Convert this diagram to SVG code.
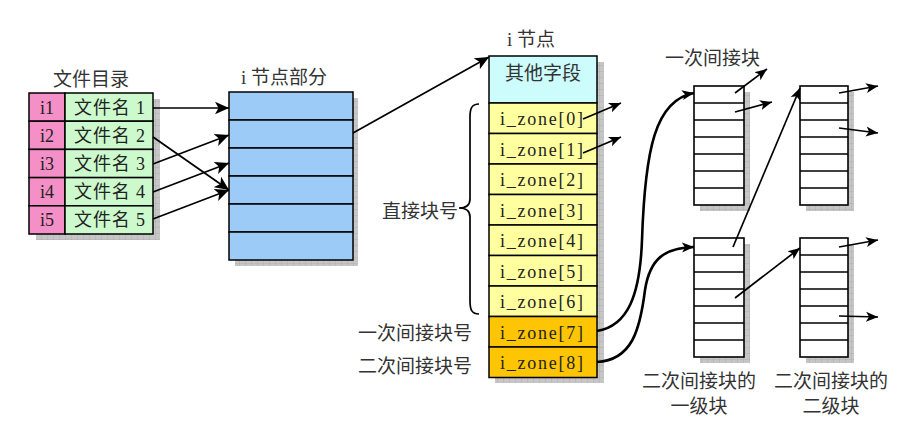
<svg xmlns="http://www.w3.org/2000/svg" width="901" height="436" viewBox="0 0 901 436">
<defs>
<pattern id="grid" width="6" height="6" patternUnits="userSpaceOnUse">
<rect width="6" height="6" fill="#c6c6c6"/>
<path d="M6,0 V6 M0,6 H6" stroke="#a9a9a9" stroke-width="0.8" fill="none"/>
</pattern>
<marker id="ah" viewBox="0 0 10 10" refX="10" refY="5" markerWidth="12" markerHeight="12" markerUnits="userSpaceOnUse" orient="auto">
<path d="M0,0.8 L10,5 L0,9.2 L2.5,5 z" fill="#000"/>
</marker>
<marker id="ahb" viewBox="0 0 10 10" refX="10" refY="5" markerWidth="14" markerHeight="14" markerUnits="userSpaceOnUse" orient="auto">
<path d="M0,0.5 L10,5 L0,9.5 L2.5,5 z" fill="#000"/>
</marker>
</defs>
<style>
text{font-family:"Liberation Serif","Noto Sans CJK SC",serif;font-size:18px;fill:#222}
.lbl{font-size:19px;fill:#333}
.cell{stroke:#000;stroke-width:1.5}
.box{fill:#fff;stroke:#000;stroke-width:1.6}
.sh{fill:url(#grid)}
.ln{stroke:#000;stroke-width:1.7;fill:none}
.thick{stroke-width:2.6}
.c{text-anchor:middle}
</style>
<rect width="901" height="436" fill="#fff"/>

<g id="file-directory">
<text class="lbl c" x="91" y="86">文件目录</text>
<rect class="sh" x="36" y="99" width="124" height="141"/>
<g class="cell">
<rect x="29" y="93" width="36" height="28.2" fill="#f58fc7"/>
<rect x="29" y="121.2" width="36" height="28.2" fill="#f58fc7"/>
<rect x="29" y="149.4" width="36" height="28.2" fill="#f58fc7"/>
<rect x="29" y="177.6" width="36" height="28.2" fill="#f58fc7"/>
<rect x="29" y="205.8" width="36" height="28.2" fill="#f58fc7"/>
<rect x="65" y="93" width="88" height="28.2" fill="#ccfacc"/>
<rect x="65" y="121.2" width="88" height="28.2" fill="#ccfacc"/>
<rect x="65" y="149.4" width="88" height="28.2" fill="#ccfacc"/>
<rect x="65" y="177.6" width="88" height="28.2" fill="#ccfacc"/>
<rect x="65" y="205.8" width="88" height="28.2" fill="#ccfacc"/>
</g>
<text class="c" x="47" y="114">i1</text>
<text class="c" x="47" y="142">i2</text>
<text class="c" x="47" y="170">i3</text>
<text class="c" x="47" y="198">i4</text>
<text class="c" x="47" y="226">i5</text>
<text x="74" y="114" textLength="71">文件名 1</text>
<text x="74" y="142" textLength="71">文件名 2</text>
<text x="74" y="170" textLength="71">文件名 3</text>
<text x="74" y="198" textLength="71">文件名 4</text>
<text x="74" y="226" textLength="71">文件名 5</text>
</g>

<g id="inode-part">
<text class="lbl" x="241" y="84">i 节点部分</text>
<rect class="sh" x="235" y="98" width="123" height="168"/>
<g class="cell" fill="#9dcbf7">
<rect x="229" y="92" width="124" height="28"/>
<rect x="229" y="120" width="124" height="28"/>
<rect x="229" y="148" width="124" height="28"/>
<rect x="229" y="176" width="124" height="28"/>
<rect x="229" y="204" width="124" height="28"/>
<rect x="229" y="232" width="124" height="28"/>
</g>
</g>

<g id="inode">
<text class="lbl" x="507" y="46">i 节点</text>
<rect class="sh" x="495" y="62" width="109" height="321"/>
<rect class="cell" x="489" y="56" width="108" height="47" fill="#ccfcfc"/>
<text class="lbl c" x="543" y="80">其他字段</text>
<g class="cell" fill="#ffff9f">
<rect x="489" y="103" width="108" height="30.5"/>
<rect x="489" y="133.5" width="108" height="30.5"/>
<rect x="489" y="164" width="108" height="30.5"/>
<rect x="489" y="194.5" width="108" height="30.5"/>
<rect x="489" y="225" width="108" height="30.5"/>
<rect x="489" y="255.5" width="108" height="30.5"/>
<rect x="489" y="286" width="108" height="30.5"/>
</g>
<g class="cell" fill="#fdc503">
<rect x="489" y="316.5" width="108" height="30.5"/>
<rect x="489" y="347" width="108" height="30.5"/>
</g>
<text x="500" y="125" textLength="83">i_zone[0]</text>
<text x="500" y="155.5" textLength="83">i_zone[1]</text>
<text x="500" y="186" textLength="83">i_zone[2]</text>
<text x="500" y="216.5" textLength="83">i_zone[3]</text>
<text x="500" y="247" textLength="83">i_zone[4]</text>
<text x="500" y="277.5" textLength="83">i_zone[5]</text>
<text x="500" y="308" textLength="83">i_zone[6]</text>
<text x="500" y="338.5" textLength="83">i_zone[7]</text>
<text x="500" y="369" textLength="83">i_zone[8]</text>
</g>

<g id="brace-labels">
<path class="ln" d="M479,104 C472,104 470,108 470,117 L470,199 C470,205 466,208 459,208 C466,208 470,211 470,217 L470,301 C470,310 472,314 479,314"/>
<text class="lbl" x="382" y="218">直接块号</text>
<text class="lbl" x="358" y="340">一次间接块号</text>
<text class="lbl" x="358" y="373">二次间接块号</text>
</g>

<g id="indirect-block">
<text class="lbl" x="665" y="65">一次间接块</text>
<rect class="sh" x="700" y="92" width="50" height="119"/>
<rect class="box" x="694" y="86" width="50" height="119"/>
<path class="ln" d="M694,103 H744 M694,120 H744 M694,137 H744 M694,154 H744 M694,171 H744 M694,188 H744"/>
</g>

<g id="data-block-top">
<rect class="sh" x="806" y="92" width="48" height="119"/>
<rect class="box" x="800" y="86" width="48" height="119"/>
<path class="ln" d="M800,103 H848 M800,120 H848 M800,137 H848 M800,154 H848 M800,171 H848 M800,188 H848"/>
</g>

<g id="double-level1">
<rect class="sh" x="700" y="244" width="50" height="119"/>
<rect class="box" x="694" y="238" width="50" height="119"/>
<path class="ln" d="M694,255 H744 M694,272 H744 M694,289 H744 M694,306 H744 M694,323 H744 M694,340 H744"/>
<text class="lbl c" x="699" y="388">二次间接块的</text>
<text class="lbl c" x="699" y="413">一级块</text>
</g>

<g id="double-level2">
<rect class="sh" x="806" y="244" width="48" height="119"/>
<rect class="box" x="800" y="238" width="48" height="119"/>
<path class="ln" d="M800,255 H848 M800,272 H848 M800,289 H848 M800,306 H848 M800,323 H848 M800,340 H848"/>
<text class="lbl c" x="831" y="388">二次间接块的</text>
<text class="lbl c" x="831" y="413">二级块</text>
</g>

<g id="connectors">
<line class="ln" x1="153" y1="108" x2="229" y2="108" marker-end="url(#ahb)"/>
<line class="ln" x1="153" y1="137" x2="229" y2="190" marker-end="url(#ahb)"/>
<line class="ln" x1="153" y1="164" x2="229" y2="135" marker-end="url(#ahb)"/>
<line class="ln" x1="153" y1="192" x2="229" y2="163" marker-end="url(#ahb)"/>
<line class="ln" x1="153" y1="219" x2="229" y2="190" marker-end="url(#ahb)"/>
<line class="ln" x1="353" y1="133" x2="489" y2="57" marker-end="url(#ahb)"/>
<line class="ln" x1="583" y1="119" x2="621" y2="103" marker-end="url(#ah)"/>
<line class="ln" x1="583" y1="153" x2="621" y2="137" marker-end="url(#ah)"/>
<path class="ln thick" d="M597,331 C628,326 640,295 642,240 C645,150 655,100 694,93" marker-end="url(#ah)"/>
<path class="ln thick" d="M597,362 C632,360 640,330 645,290 C650,258 665,248 694,247" marker-end="url(#ah)"/>
<line class="ln" x1="735" y1="93" x2="767" y2="69" marker-end="url(#ah)"/>
<line class="ln" x1="735" y1="112" x2="772" y2="102" marker-end="url(#ah)"/>
<line class="ln" x1="839" y1="93" x2="878" y2="86" marker-end="url(#ah)"/>
<line class="ln" x1="839" y1="128" x2="878" y2="133" marker-end="url(#ah)"/>
<line class="ln" x1="733" y1="247" x2="800" y2="88" marker-end="url(#ah)"/>
<line class="ln" x1="735" y1="298" x2="800" y2="248" marker-end="url(#ah)"/>
<line class="ln" x1="839" y1="247" x2="878" y2="240" marker-end="url(#ah)"/>
<line class="ln" x1="839" y1="316" x2="878" y2="317" marker-end="url(#ah)"/>
</g>
</svg>
